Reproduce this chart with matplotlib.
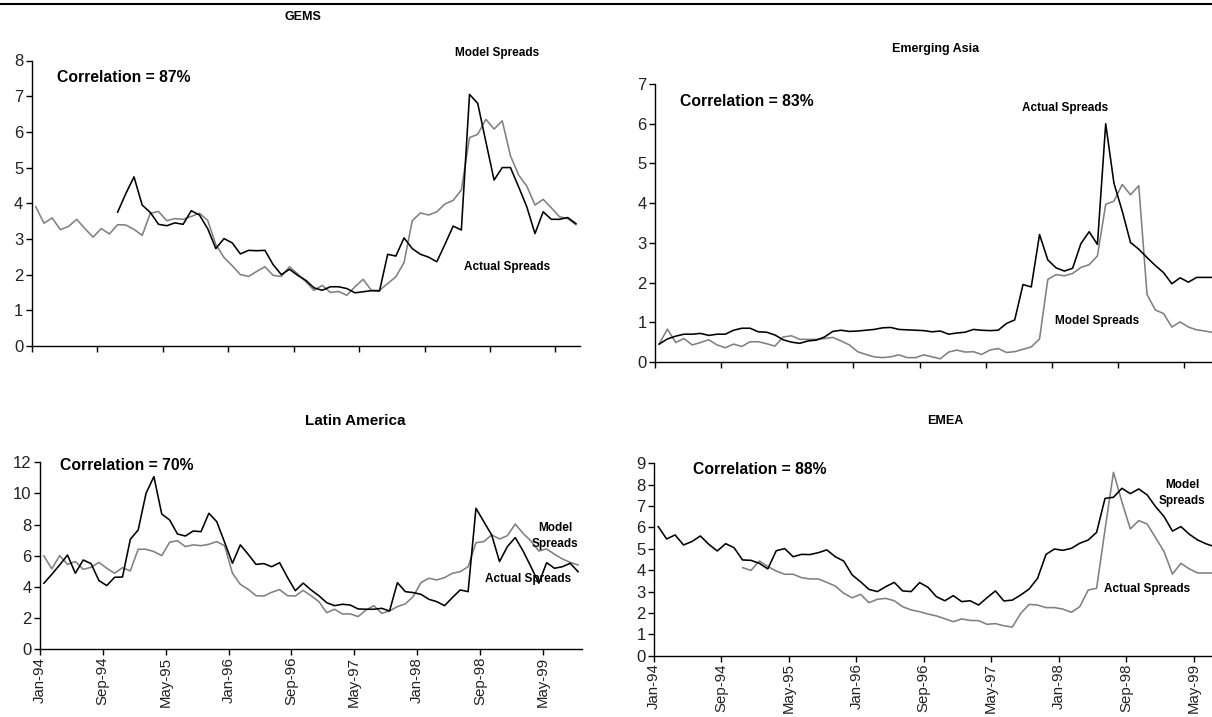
import matplotlib
matplotlib.use("Agg")
import matplotlib.pyplot as plt
from matplotlib.lines import Line2D
import numpy as np

plt.rcParams['font.family'] = ['Liberation Sans', 'DejaVu Sans']

# month labels every 8 months from Jan-94
tick_labels = ["Jan-94", "Sep-94", "May-95", "Jan-96", "Sep-96",
               "May-97", "Jan-98", "Sep-98", "May-99"]

# GEMS (spreads, %)
gems_model = [3.90, 3.44, 3.59, 3.26, 3.35, 3.55, 3.29, 3.05, 3.29, 3.14,
              3.40, 3.39, 3.27, 3.10, 3.72, 3.77, 3.51, 3.57, 3.55, 3.63,
              3.72, 3.52, 2.84, 2.48, 2.25, 2.00, 1.95, 2.09, 2.22, 1.98,
              1.95, 2.22, 2.02, 1.80, 1.56, 1.70, 1.50, 1.53, 1.42, 1.66,
              1.87, 1.56, 1.56, 1.75, 1.94, 2.34, 3.51, 3.73, 3.67, 3.76,
              3.98, 4.08, 4.37, 5.84, 5.93, 6.35, 6.08, 6.31, 5.33, 4.79,
              4.48, 3.95, 4.11, 3.87, 3.62, 3.57, 3.40]
gems_actual = [None] * 10 + [
              3.75, 4.27, 4.74, 3.95, 3.74, 3.41, 3.37, 3.45, 3.41, 3.79,
              3.67, 3.29, 2.73, 3.01, 2.89, 2.58, 2.68, 2.67, 2.68, 2.28,
              2.00, 2.15, 1.98, 1.84, 1.63, 1.56, 1.66, 1.66, 1.61, 1.49,
              1.52, 1.55, 1.54, 2.57, 2.52, 3.03, 2.73, 2.57, 2.49, 2.36,
              2.85, 3.36, 3.25, 7.05, 6.80, 5.72, 4.65, 5.00, 5.00, 4.46,
              3.90, 3.15, 3.76, 3.55, 3.55, 3.60, 3.43]

# Emerging Asia
asia_actual = [0.45, 0.58, 0.65, 0.70, 0.70, 0.72, 0.67, 0.70, 0.70, 0.80,
               0.85, 0.85, 0.76, 0.75, 0.68, 0.56, 0.50, 0.47, 0.53, 0.55,
               0.63, 0.77, 0.80, 0.77, 0.78, 0.80, 0.82, 0.86, 0.87, 0.82,
               0.81, 0.80, 0.79, 0.76, 0.78, 0.70, 0.73, 0.75, 0.82, 0.80,
               0.79, 0.80, 0.97, 1.06, 1.95, 1.89, 3.21, 2.57, 2.37, 2.29,
               2.36, 2.98, 3.28, 2.96, 6.00, 4.50, 3.80, 3.01, 2.84, 2.63,
               2.43, 2.25, 1.97, 2.12, 2.01, 2.13, 2.13, 2.13]
asia_model = [0.45, 0.83, 0.49, 0.59, 0.43, 0.49, 0.56, 0.43, 0.36, 0.45,
              0.39, 0.51, 0.51, 0.46, 0.40, 0.63, 0.66, 0.57, 0.57, 0.57,
              0.59, 0.62, 0.53, 0.43, 0.26, 0.19, 0.13, 0.11, 0.13, 0.18,
              0.11, 0.11, 0.18, 0.13, 0.08, 0.25, 0.30, 0.25, 0.26, 0.19,
              0.30, 0.34, 0.24, 0.26, 0.32, 0.38, 0.58, 2.08, 2.20, 2.17,
              2.23, 2.38, 2.45, 2.67, 3.97, 4.05, 4.47, 4.21, 4.44, 1.70,
              1.31, 1.22, 0.88, 1.01, 0.88, 0.81, 0.78, 0.74]

# Latin America
latam_actual = [4.24, 4.81, 5.41, 6.05, 4.88, 5.73, 5.50, 4.41, 4.09, 4.62,
                4.64, 7.06, 7.66, 10.01, 11.08, 8.68, 8.30, 7.40, 7.27, 7.59,
                7.55, 8.73, 8.19, 6.87, 5.52, 6.70, 6.10, 5.45, 5.50, 5.30,
                5.56, 4.62, 3.76, 4.25, 3.81, 3.44, 2.99, 2.80, 2.89, 2.84,
                2.59, 2.57, 2.57, 2.63, 2.46, 4.28, 3.70, 3.64, 3.53, 3.21,
                3.06, 2.80, 3.32, 3.81, 3.70, 9.05, 8.19, 7.34, 5.63, 6.59,
                7.17, 6.31, 5.30, 4.24, 5.56, 5.20, 5.30, 5.52, 4.98]
latam_model = [5.99, 5.16, 6.01, 5.45, 5.63, 5.13, 5.26, 5.58, 5.20, 4.88,
               5.24, 5.03, 6.42, 6.42, 6.27, 6.01, 6.87, 6.97, 6.59, 6.70,
               6.65, 6.74, 6.91, 6.65, 4.88, 4.17, 3.85, 3.44, 3.42, 3.66,
               3.83, 3.44, 3.42, 3.78, 3.44, 3.06, 2.35, 2.57, 2.27, 2.27,
               2.10, 2.52, 2.80, 2.31, 2.46, 2.74, 2.91, 3.38, 4.28, 4.56,
               4.45, 4.60, 4.88, 4.98, 5.30, 6.84, 6.91, 7.34, 7.08, 7.29,
               8.04, 7.44, 6.95, 6.31, 6.44, 6.10, 5.80, 5.58, 5.41]

# EMEA
emea_model = [6.04, 5.46, 5.65, 5.18, 5.34, 5.60, 5.21, 4.90, 5.24, 5.05,
              4.48, 4.46, 4.32, 4.06, 4.91, 5.01, 4.63, 4.74, 4.73, 4.82,
              4.95, 4.63, 4.43, 3.78, 3.46, 3.10, 3.00, 3.23, 3.43, 3.03,
              3.00, 3.42, 3.20, 2.76, 2.57, 2.81, 2.53, 2.57, 2.37, 2.71,
              3.03, 2.56, 2.60, 2.84, 3.12, 3.62, 4.74, 4.99, 4.93, 5.02,
              5.26, 5.41, 5.77, 7.36, 7.41, 7.83, 7.58, 7.80, 7.52, 6.97,
              6.51, 5.83, 6.04, 5.68, 5.41, 5.23, 5.10]
emea_actual = [None] * 10 + [
              4.12, 3.99, 4.43, 4.17, 3.96, 3.81, 3.81, 3.65, 3.59, 3.59,
              3.43, 3.26, 2.92, 2.71, 2.87, 2.48, 2.64, 2.68, 2.57, 2.29,
              2.14, 2.06, 1.95, 1.86, 1.73, 1.59, 1.72, 1.65, 1.64, 1.47,
              1.50, 1.40, 1.34, 1.98, 2.40, 2.37, 2.25, 2.25, 2.18, 2.03,
              2.29, 3.07, 3.15, 5.90, 8.58, 7.20, 5.93, 6.32, 6.16, 5.52,
              4.87, 3.82, 4.32, 4.06, 3.87, 3.87, 3.87]

W, H = 1212, 717
fig = plt.figure(figsize=(W / 100, H / 100), dpi=100)


def box(x0, y_top, x1, y_bot):
    return [x0 / W, 1 - y_bot / H, (x1 - x0) / W, (y_bot - y_top) / H]


def put(x, y, s, **kw):
    fig.text(x / W, 1 - y / H, s, fontweight='bold', **kw)


def panel(rect, black, grey, ymax, ystep, nmonths, labels):
    ax = fig.add_axes(rect)
    for vals, col in ((grey, '#808080'), (black, 'black')):
        y = np.array([np.nan if v is None else v for v in vals], dtype=float)
        x = np.arange(len(y)) + 0.5
        ax.plot(x, y, color=col, lw=1.15, clip_on=False)
    ax.set_xlim(0, nmonths)
    ax.set_ylim(0, ymax)
    ax.set_yticks(np.arange(0, ymax + 0.01, ystep))
    ax.set_xticks(np.arange(0, 65, 8))
    if labels:
        ax.set_xticklabels(tick_labels, rotation=90)
    else:
        ax.set_xticklabels([])
    for s in ('top', 'right'):
        ax.spines[s].set_visible(False)
    for s in ('left', 'bottom'):
        ax.spines[s].set_linewidth(1.0)
    ax.tick_params(direction='out', length=4, width=1, pad=2,
                   labelcolor='#222222')
    ax.tick_params(axis='y', labelsize=12)
    ax.tick_params(axis='x', labelsize=10.8, pad=1.5)
    return ax


panel(box(31.7, 60.5, 580, 346), gems_actual, gems_model, 8, 1, 67, False)
panel(box(655, 84, 1225.6, 362), asia_actual, asia_model, 7, 1, 69, False)
panel(box(40, 462.3, 582, 649.3), latam_actual, latam_model, 12, 2, 69, True)
panel(box(654, 463.3, 1235.7, 655.7), emea_model, emea_actual, 9, 1, 69, True)

# rule across the top of the page
fig.add_artist(Line2D([0, 1], [1 - 4 / H, 1 - 4 / H], transform=fig.transFigure,
                      color='black', lw=1.5))

# panel titles
put(303, 17, "GEMS", ha='center', va='center', fontsize=9)
put(936, 49, "Emerging Asia", ha='center', va='center', fontsize=9)
put(355, 421, "Latin America", ha='center', va='center', fontsize=11)
put(945, 421, "EMEA", ha='center', va='center', fontsize=9)

# correlations
put(57, 78, "Correlation = 87%", ha='left', va='center', fontsize=11.3)
put(680, 101, "Correlation = 83%", ha='left', va='center', fontsize=11.3)
put(60, 466, "Correlation = 70%", ha='left', va='center', fontsize=11.3)
put(693, 470, "Correlation = 88%", ha='left', va='center', fontsize=11.3)

# series labels
put(497, 53, "Model Spreads", ha='center', va='center', fontsize=8.5)
put(507, 267, "Actual Spreads", ha='center', va='center', fontsize=8.5)
put(1065, 108, "Actual Spreads", ha='center', va='center', fontsize=8.5)
put(1097, 321, "Model Spreads", ha='center', va='center', fontsize=8.5)
put(555, 536, "Model\nSpreads", ha='center', va='center', fontsize=8.5,
    linespacing=1.4)
put(528, 579, "Actual Spreads", ha='center', va='center', fontsize=8.5)
put(1182, 493, "Model\nSpreads", ha='center', va='center', fontsize=8.5,
    linespacing=1.4)
put(1147, 589, "Actual Spreads", ha='center', va='center', fontsize=8.5)

fig.savefig("out.png", dpi=100)
